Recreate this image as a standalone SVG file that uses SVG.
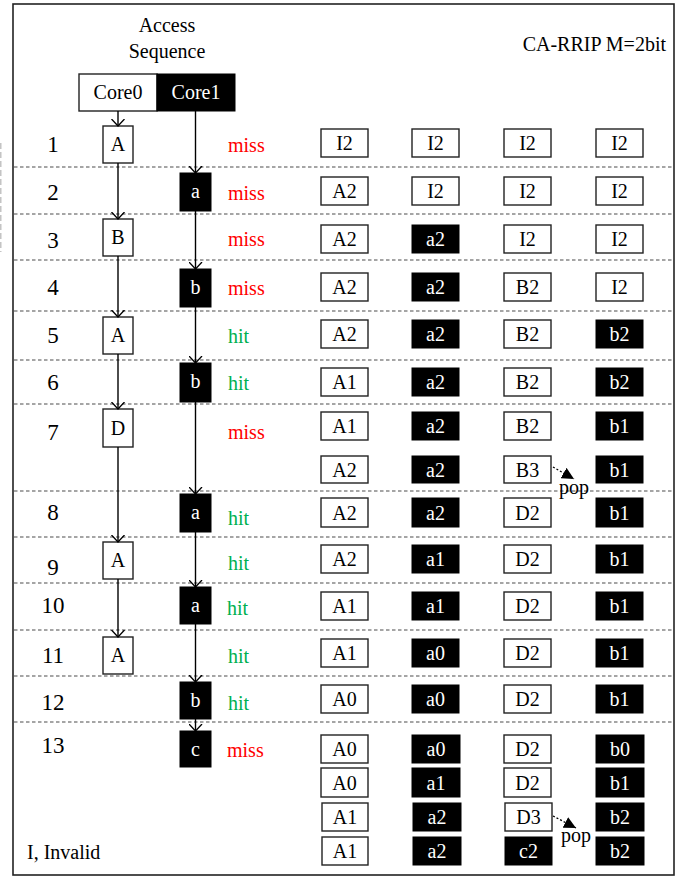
<svg xmlns="http://www.w3.org/2000/svg" width="690" height="878" viewBox="0 0 690 878">
<defs>
<style>
text{font-family:"Liberation Serif","Times New Roman",serif;fill:#000}
.num{font-size:23px;text-anchor:middle}
.hdr{font-size:20px;text-anchor:middle}
.miss{font-size:20px;fill:#ff0000}
.hit{font-size:20px;fill:#00b050}
.cell{font-size:20px;text-anchor:middle}
.w{fill:#fff;stroke:#222;stroke-width:1.4}
.b{fill:#000;stroke:#000;stroke-width:1}
.wt{fill:#fff}
.sep{stroke:#888;stroke-width:1.3;stroke-dasharray:3.5 2.5}
.con{stroke:#000;stroke-width:1.4;fill:none}
.pop{stroke:#000;stroke-width:1.3;stroke-dasharray:2 2;fill:none}
.lbl{font-size:20px;text-anchor:middle}
</style>
<marker id="open" markerUnits="userSpaceOnUse" viewBox="0 0 8 14" refX="7.5" refY="7" markerWidth="8" markerHeight="14" orient="auto">
<path d="M0.5,0.5 L7.5,7 L0.5,13.5" fill="none" stroke="#000" stroke-width="1.3"/>
</marker>
<marker id="tri" markerUnits="userSpaceOnUse" viewBox="0 0 10 10" refX="10" refY="5" markerWidth="12" markerHeight="12" orient="auto">
<path d="M0,0 L10,5 L0,10 Z" fill="#000"/>
</marker>
</defs>
<rect x="0" y="0" width="690" height="878" fill="#fff"/>
<line x1="0.8" y1="143" x2="0.8" y2="252" stroke="#bbb" stroke-width="1.3" stroke-dasharray="6 3"/>
<rect x="13" y="4" width="661" height="871" fill="none" stroke="#222" stroke-width="1.6"/>

<g id="separators">
<line class="sep" x1="14" y1="167" x2="673" y2="167"/>
<line class="sep" x1="14" y1="214" x2="673" y2="214"/>
<line class="sep" x1="14" y1="260" x2="673" y2="260"/>
<line class="sep" x1="14" y1="311" x2="673" y2="311"/>
<line class="sep" x1="14" y1="360" x2="673" y2="360"/>
<line class="sep" x1="14" y1="404" x2="673" y2="404"/>
<line class="sep" x1="14" y1="491" x2="673" y2="491"/>
<line class="sep" x1="14" y1="537" x2="673" y2="537"/>
<line class="sep" x1="14" y1="583" x2="673" y2="583"/>
<line class="sep" x1="14" y1="630" x2="673" y2="630"/>
<line class="sep" x1="14" y1="676" x2="673" y2="676"/>
<line class="sep" x1="14" y1="722" x2="673" y2="722"/>
</g>

<g id="titles">
<text class="hdr" x="167" y="32">Access</text>
<text class="hdr" x="167" y="58">Sequence</text>
<text style="font-size:20px;text-anchor:end" x="666" y="51">CA-RRIP M=2bit</text>
<text style="font-size:20px" x="27" y="859">I, Invalid</text>
</g>

<g id="header">
<rect class="w" x="79" y="74" width="78" height="37"/>
<text class="hdr" x="118" y="99">Core0</text>
<rect class="b" x="157" y="74" width="78" height="37"/>
<text class="hdr wt" x="196" y="99">Core1</text>
</g>

<g id="row-numbers">
<text class="num" x="53" y="152">1</text>
<text class="num" x="53" y="200">2</text>
<text class="num" x="53" y="248">3</text>
<text class="num" x="53" y="295">4</text>
<text class="num" x="53" y="343">5</text>
<text class="num" x="53" y="390">6</text>
<text class="num" x="53" y="440">7</text>
<text class="num" x="53" y="520">8</text>
<text class="num" x="53" y="575">9</text>
<text class="num" x="53" y="613">10</text>
<text class="num" x="53" y="663">11</text>
<text class="num" x="53" y="710">12</text>
<text class="num" x="53" y="753">13</text>
</g>

<g id="core0-seq">
<rect class="w" x="103" y="126" width="30" height="37"/><text class="hdr" x="118" y="151">A</text>
<rect class="w" x="103" y="219" width="30" height="37"/><text class="hdr" x="118" y="244">B</text>
<rect class="w" x="103" y="317" width="30" height="37"/><text class="hdr" x="118" y="342">A</text>
<rect class="w" x="103" y="409" width="30" height="38"/><text class="hdr" x="118" y="435">D</text>
<rect class="w" x="103" y="542" width="30" height="37"/><text class="hdr" x="118" y="567">A</text>
<rect class="w" x="103" y="637" width="30" height="37"/><text class="hdr" x="118" y="662">A</text>
</g>

<g id="core1-seq">
<rect class="b" x="180" y="173" width="31" height="38"/><text class="hdr wt" x="195.5" y="198">a</text>
<rect class="b" x="180" y="269" width="31" height="38"/><text class="hdr wt" x="195.5" y="294">b</text>
<rect class="b" x="180" y="363" width="31" height="39"/><text class="hdr wt" x="195.5" y="388">b</text>
<rect class="b" x="180" y="494" width="31" height="38"/><text class="hdr wt" x="195.5" y="519">a</text>
<rect class="b" x="180" y="587" width="31" height="37"/><text class="hdr wt" x="195.5" y="612">a</text>
<rect class="b" x="180" y="682" width="31" height="37"/><text class="hdr wt" x="195.5" y="707">b</text>
<rect class="b" x="180" y="731" width="31" height="36"/><text class="hdr wt" x="195.5" y="756">c</text>
</g>

<g id="connectors">
<line class="con" x1="118" y1="111" x2="118" y2="126" marker-end="url(#open)"/>
<line class="con" x1="118" y1="163" x2="118" y2="219" marker-end="url(#open)"/>
<line class="con" x1="118" y1="256" x2="118" y2="317" marker-end="url(#open)"/>
<line class="con" x1="118" y1="354" x2="118" y2="409" marker-end="url(#open)"/>
<line class="con" x1="118" y1="447" x2="118" y2="542" marker-end="url(#open)"/>
<line class="con" x1="118" y1="579" x2="118" y2="637" marker-end="url(#open)"/>
<line class="con" x1="195.5" y1="111" x2="195.5" y2="173" marker-end="url(#open)"/>
<line class="con" x1="195.5" y1="211" x2="195.5" y2="269" marker-end="url(#open)"/>
<line class="con" x1="195.5" y1="307" x2="195.5" y2="363" marker-end="url(#open)"/>
<line class="con" x1="195.5" y1="402" x2="195.5" y2="494" marker-end="url(#open)"/>
<line class="con" x1="195.5" y1="532" x2="195.5" y2="587" marker-end="url(#open)"/>
<line class="con" x1="195.5" y1="624" x2="195.5" y2="682" marker-end="url(#open)"/>
<line class="con" x1="195.5" y1="719" x2="195.5" y2="731" marker-end="url(#open)"/>
<line class="pop" x1="553" y1="467" x2="574" y2="479" marker-end="url(#tri)"/>
<line class="pop" x1="553" y1="816" x2="576" y2="828" marker-end="url(#tri)"/>
</g>

<g id="results">
<text class="miss" x="228" y="152">miss</text>
<text class="miss" x="228" y="200">miss</text>
<text class="miss" x="228" y="246">miss</text>
<text class="miss" x="228" y="295">miss</text>
<text class="hit" x="228" y="343">hit</text>
<text class="hit" x="228" y="390">hit</text>
<text class="miss" x="228" y="439">miss</text>
<text class="hit" x="228" y="525">hit</text>
<text class="hit" x="228" y="570">hit</text>
<text class="hit" x="227" y="615">hit</text>
<text class="hit" x="228" y="663">hit</text>
<text class="hit" x="228" y="710">hit</text>
<text class="miss" x="227" y="757">miss</text>
</g>

<g id="cache-r1">
<rect class="w" x="321" y="129" width="47" height="28"/><text class="cell" x="344.5" y="150">I2</text>
<rect class="w" x="412" y="129" width="47" height="28"/><text class="cell" x="435.5" y="150">I2</text>
<rect class="w" x="504" y="129" width="47" height="28"/><text class="cell" x="527.5" y="150">I2</text>
<rect class="w" x="596" y="129" width="47" height="28"/><text class="cell" x="619.5" y="150">I2</text>
</g>
<g id="cache-r2">
<rect class="w" x="321" y="177" width="47" height="28"/><text class="cell" x="344.5" y="198">A2</text>
<rect class="w" x="412" y="177" width="47" height="28"/><text class="cell" x="435.5" y="198">I2</text>
<rect class="w" x="504" y="177" width="47" height="28"/><text class="cell" x="527.5" y="198">I2</text>
<rect class="w" x="596" y="177" width="47" height="28"/><text class="cell" x="619.5" y="198">I2</text>
</g>
<g id="cache-r3">
<rect class="w" x="321" y="225" width="47" height="28"/><text class="cell" x="344.5" y="246">A2</text>
<rect class="b" x="412" y="225" width="47" height="28"/><text class="cell wt" x="435.5" y="246">a2</text>
<rect class="w" x="504" y="225" width="47" height="28"/><text class="cell" x="527.5" y="246">I2</text>
<rect class="w" x="596" y="225" width="47" height="28"/><text class="cell" x="619.5" y="246">I2</text>
</g>
<g id="cache-r4">
<rect class="w" x="321" y="273" width="47" height="28"/><text class="cell" x="344.5" y="294">A2</text>
<rect class="b" x="412" y="273" width="47" height="28"/><text class="cell wt" x="435.5" y="294">a2</text>
<rect class="w" x="504" y="273" width="47" height="28"/><text class="cell" x="527.5" y="294">B2</text>
<rect class="w" x="596" y="273" width="47" height="28"/><text class="cell" x="619.5" y="294">I2</text>
</g>
<g id="cache-r5">
<rect class="w" x="321" y="320" width="47" height="28"/><text class="cell" x="344.5" y="341">A2</text>
<rect class="b" x="412" y="320" width="47" height="28"/><text class="cell wt" x="435.5" y="341">a2</text>
<rect class="w" x="504" y="320" width="47" height="28"/><text class="cell" x="527.5" y="341">B2</text>
<rect class="b" x="596" y="320" width="47" height="28"/><text class="cell wt" x="619.5" y="341">b2</text>
</g>
<g id="cache-r6">
<rect class="w" x="321" y="368" width="47" height="28"/><text class="cell" x="344.5" y="389">A1</text>
<rect class="b" x="412" y="368" width="47" height="28"/><text class="cell wt" x="435.5" y="389">a2</text>
<rect class="w" x="504" y="368" width="47" height="28"/><text class="cell" x="527.5" y="389">B2</text>
<rect class="b" x="596" y="368" width="47" height="28"/><text class="cell wt" x="619.5" y="389">b2</text>
</g>
<g id="cache-r7a">
<rect class="w" x="321" y="412" width="47" height="28"/><text class="cell" x="344.5" y="433">A1</text>
<rect class="b" x="412" y="412" width="47" height="28"/><text class="cell wt" x="435.5" y="433">a2</text>
<rect class="w" x="504" y="412" width="47" height="28"/><text class="cell" x="527.5" y="433">B2</text>
<rect class="b" x="596" y="412" width="47" height="28"/><text class="cell wt" x="619.5" y="433">b1</text>
</g>
<g id="cache-r7b">
<rect class="w" x="321" y="456" width="47" height="27"/><text class="cell" x="344.5" y="477">A2</text>
<rect class="b" x="412" y="456" width="47" height="27"/><text class="cell wt" x="435.5" y="477">a2</text>
<rect class="w" x="504" y="456" width="47" height="27"/><text class="cell" x="527.5" y="477">B3</text>
<rect class="b" x="596" y="456" width="47" height="27"/><text class="cell wt" x="619.5" y="477">b1</text>
<text class="lbl" x="574" y="494">pop</text>
</g>
<g id="cache-r8">
<rect class="w" x="321" y="498" width="47" height="29"/><text class="cell" x="344.5" y="520">A2</text>
<rect class="b" x="412" y="498" width="47" height="29"/><text class="cell wt" x="435.5" y="520">a2</text>
<rect class="w" x="504" y="498" width="47" height="29"/><text class="cell" x="527.5" y="520">D2</text>
<rect class="b" x="596" y="498" width="47" height="29"/><text class="cell wt" x="619.5" y="520">b1</text>
</g>
<g id="cache-r9">
<rect class="w" x="321" y="545" width="47" height="28"/><text class="cell" x="344.5" y="566">A2</text>
<rect class="b" x="412" y="545" width="47" height="28"/><text class="cell wt" x="435.5" y="566">a1</text>
<rect class="w" x="504" y="545" width="47" height="28"/><text class="cell" x="527.5" y="566">D2</text>
<rect class="b" x="596" y="545" width="47" height="28"/><text class="cell wt" x="619.5" y="566">b1</text>
</g>
<g id="cache-r10">
<rect class="w" x="321" y="592" width="47" height="28"/><text class="cell" x="344.5" y="613">A1</text>
<rect class="b" x="412" y="592" width="47" height="28"/><text class="cell wt" x="435.5" y="613">a1</text>
<rect class="w" x="504" y="592" width="47" height="28"/><text class="cell" x="527.5" y="613">D2</text>
<rect class="b" x="596" y="592" width="47" height="28"/><text class="cell wt" x="619.5" y="613">b1</text>
</g>
<g id="cache-r11">
<rect class="w" x="321" y="639" width="47" height="28"/><text class="cell" x="344.5" y="660">A1</text>
<rect class="b" x="412" y="639" width="47" height="28"/><text class="cell wt" x="435.5" y="660">a0</text>
<rect class="w" x="504" y="639" width="47" height="28"/><text class="cell" x="527.5" y="660">D2</text>
<rect class="b" x="596" y="639" width="47" height="28"/><text class="cell wt" x="619.5" y="660">b1</text>
</g>
<g id="cache-r12">
<rect class="w" x="321" y="685" width="47" height="28"/><text class="cell" x="344.5" y="706">A0</text>
<rect class="b" x="412" y="685" width="47" height="28"/><text class="cell wt" x="435.5" y="706">a0</text>
<rect class="w" x="504" y="685" width="47" height="28"/><text class="cell" x="527.5" y="706">D2</text>
<rect class="b" x="596" y="685" width="47" height="28"/><text class="cell wt" x="619.5" y="706">b1</text>
</g>
<g id="cache-r13a">
<rect class="w" x="321" y="735" width="47" height="28"/><text class="cell" x="344.5" y="756">A0</text>
<rect class="b" x="412" y="735" width="48" height="28"/><text class="cell wt" x="436" y="756">a0</text>
<rect class="w" x="504" y="735" width="47" height="28"/><text class="cell" x="527.5" y="756">D2</text>
<rect class="b" x="596" y="735" width="48" height="28"/><text class="cell wt" x="620" y="756">b0</text>
</g>
<g id="cache-r13b">
<rect class="w" x="321" y="768" width="47" height="29"/><text class="cell" x="344.5" y="790">A0</text>
<rect class="b" x="412" y="768" width="48" height="29"/><text class="cell wt" x="436" y="790">a1</text>
<rect class="w" x="504" y="768" width="47" height="29"/><text class="cell" x="527.5" y="790">D2</text>
<rect class="b" x="596" y="768" width="48" height="29"/><text class="cell wt" x="620" y="790">b1</text>
</g>
<g id="cache-r13c">
<rect class="w" x="322" y="803" width="46" height="28"/><text class="cell" x="345" y="824">A1</text>
<rect class="b" x="413" y="803" width="48" height="28"/><text class="cell wt" x="437" y="824">a2</text>
<rect class="w" x="505" y="803" width="47" height="28"/><text class="cell" x="528.5" y="824">D3</text>
<rect class="b" x="596" y="803" width="48" height="28"/><text class="cell wt" x="620" y="824">b2</text>
<text class="lbl" x="576" y="842">pop</text>
</g>
<g id="cache-r13d">
<rect class="w" x="322" y="837" width="46" height="28"/><text class="cell" x="345" y="858">A1</text>
<rect class="b" x="413" y="837" width="48" height="28"/><text class="cell wt" x="437" y="858">a2</text>
<rect class="b" x="505" y="837" width="47" height="28"/><text class="cell wt" x="528.5" y="858">c2</text>
<rect class="b" x="596" y="837" width="48" height="28"/><text class="cell wt" x="620" y="858">b2</text>
</g>
</svg>
